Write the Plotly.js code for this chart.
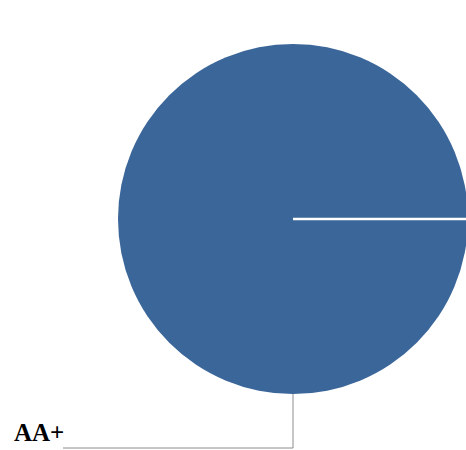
<!DOCTYPE html>
<html>
<head>
<meta charset="utf-8">
<script src="https://cdn.plot.ly/plotly-3.0.1.min.js"></script>
<style>html,body{margin:0;padding:0;overflow:hidden;background:#fff;}</style>
</head>
<body>
<div id="chart"></div>
<script>
const labels = ["AA+"];
const values = [100];
const colors = ["#3b6699"];

const W = 470, H = 450;
const cx = 293, cy = 219, r = 175;
const px = x => x / W;
const py = y => (H - y) / H;

const data = [{
  type: "pie",
  labels: labels,
  values: values,
  marker: { colors: colors, line: { width: 0 } },
  textinfo: "none",
  hoverinfo: "label+percent",
  sort: false,
  direction: "clockwise",
  rotation: 90,
  showlegend: false,
  domain: { x: [px(cx - r), px(cx + r)], y: [py(cy + r), py(cy - r)] }
}];

const layout = {
  width: W, height: H,
  margin: { l: 0, r: 0, t: 0, b: 0 },
  paper_bgcolor: "#fff",
  showlegend: false,
  shapes: [
    { type: "line", xref: "paper", yref: "paper", x0: px(cx), y0: py(cy), x1: px(cx + r + 2), y1: py(cy),
      line: { color: "#ffffff", width: 2.5 } },
    { type: "path", xref: "paper", yref: "paper",
      path: `M ${px(cx)} ${py(cy + r)} L ${px(cx)} ${py(448)} L ${px(63)} ${py(448)}`,
      line: { color: "#8c8c8c", width: 1 } }
  ],
  annotations: [
    { text: "<b>" + labels[0] + "</b>", xref: "paper", yref: "paper", x: px(12), y: py(432),
      xanchor: "left", yanchor: "middle", showarrow: false,
      font: { family: "Liberation Serif, Times New Roman, serif", size: 25, color: "#000" } }
  ]
};

Plotly.newPlot("chart", data, layout, { displayModeBar: false, staticPlot: true });
</script>
</body>
</html>
